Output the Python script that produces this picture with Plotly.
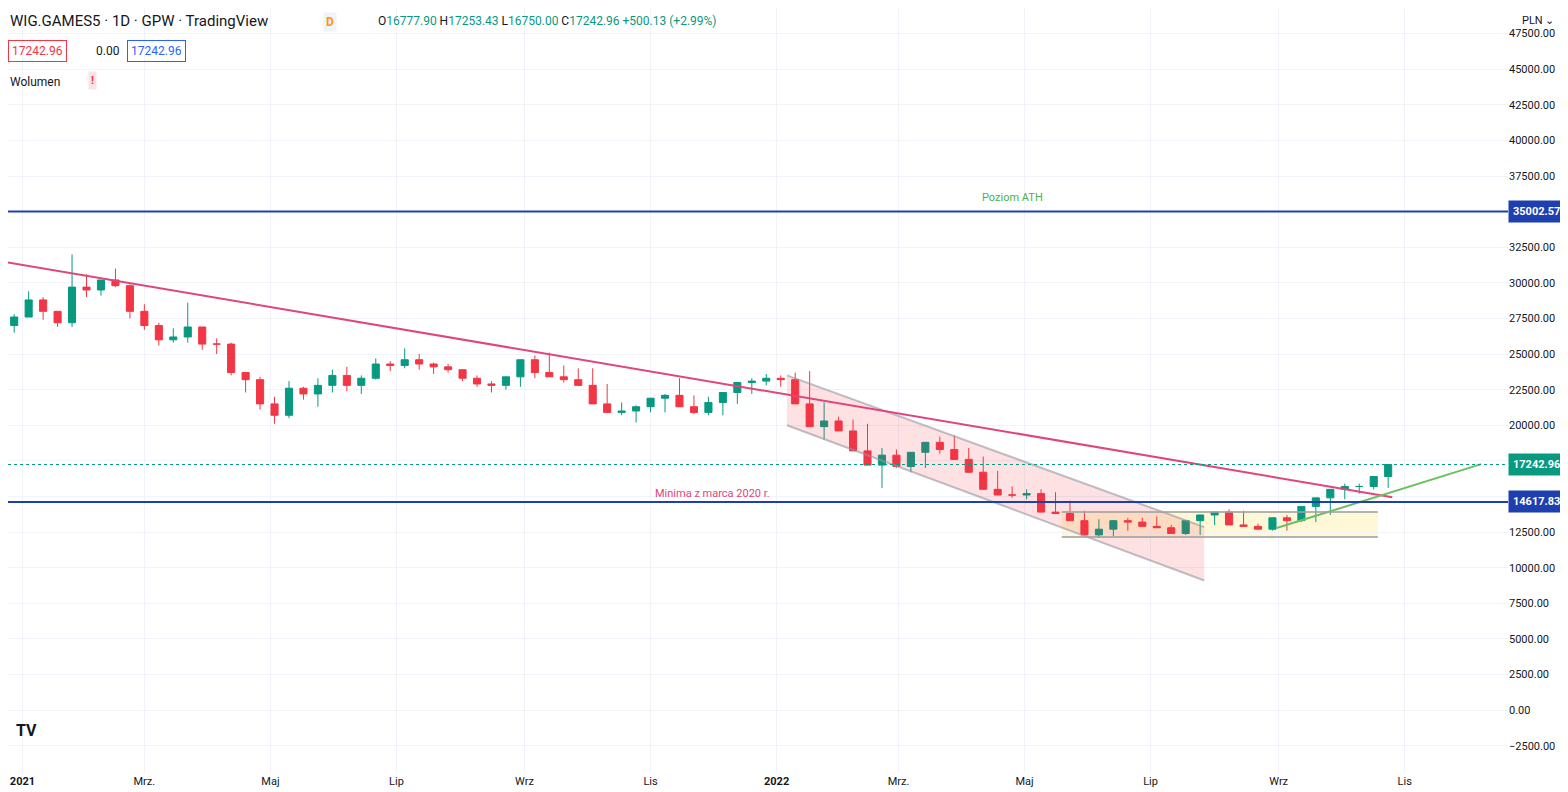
import plotly.graph_objects as go
import pandas as pd

# weekly candles (week start dates)
weeks = pd.date_range("2020-12-28", "2022-10-31", freq="W-MON")
opens = [27000, 27600, 28800, 28000, 27200, 29700, 29500, 30200, 29800, 28000, 27000, 26000, 26200, 26900,
         25700, 25700, 23700, 23200, 21500, 20700, 22600, 22200, 22800, 23500, 22800, 23300, 24300, 24200,
         24600, 24300, 24100, 23900, 23300, 22900, 22800, 23400, 24600, 23700, 23400, 23200, 22800, 21500,
         20900, 21000, 21300, 21900, 22100, 21300, 20900, 21600, 22300, 23000, 23100, 23300, 23200, 21500,
         19900, 20300, 19600, 18200, 17200, 17900, 17100, 18100, 18800, 18300, 17600, 16700, 15500, 15100,
         15100, 15200, 13900, 13800, 13300, 12300, 12700, 13300, 13200, 12900, 12800, 12400, 13300, 13700,
         13900, 13000, 12900, 12700, 13500, 13300, 14300, 14900, 15500, 15700, 15700, 16400]
highs = [27800, 29400, 29000, 28000, 32000, 30600, 30200, 31000, 29900, 28500, 27200, 26800, 28600, 26900,
         26100, 25800, 23600, 23400, 22000, 23100, 22700, 23300, 23900, 24100, 23500, 24700, 24500, 25400,
         25000, 24400, 24300, 23900, 23500, 23100, 23000, 24300, 24900, 25100, 24200, 24000, 24000, 22900,
         21600, 21400, 21500, 22200, 23300, 22100, 22000, 21800, 22500, 23300, 23600, 23500, 23700, 23800,
         21600, 20600, 20400, 20100, 18400, 18300, 18000, 18300, 19200, 19300, 18400, 17800, 16800, 15700,
         15500, 15500, 15300, 14700, 14000, 13400, 12900, 13500, 13500, 13600, 13000, 13100, 13400, 13900,
         14100, 14000, 13100, 13200, 13700, 14000, 14500, 15000, 15900, 15900, 16100, 16700, 17253]
lows = [26500, 27600, 27400, 26900, 26900, 29000, 29100, 29700, 27500, 26700, 25600, 25800, 25800, 25300,
        25000, 23500, 22300, 21100, 20100, 20500, 21800, 21300, 22300, 22400, 22200, 23200, 23800, 24000,
        23900, 23600, 23700, 23100, 22700, 22300, 22500, 22700, 23300, 23500, 23000, 22900, 22600, 21400,
        20700, 20200, 20900, 20900, 21800, 20800, 20700, 20700, 21500, 22200, 22800, 22700, 23000, 21300,
        19000, 19600, 19300, 18000, 15600, 17000, 16700, 17000, 18000, 18200, 17300, 16500, 15300, 14900,
        14800, 14800, 13800, 13800, 13200, 12100, 12200, 12600, 12900, 12800, 12600, 12300, 12300, 13000,
        13700, 12900, 12700, 12600, 12600, 13200, 13200, 13700, 14800, 15200, 15500, 15600, 16300]
closes = opens[1:] + [17242.96]

ath_level = 35002.57
march2020_min = 14617.83
last_close = 17242.96

# drawings (date, price)
trend_pts = [("2020-12-24", 31450), ("2022-10-26", 14950)]
channel_top = [("2022-01-06", 23500), ("2022-07-27", 12850)]
channel_bot = [("2022-01-06", 20000), ("2022-07-27", 9100)]
range_box = [("2022-05-19", 12150), ("2022-10-19", 13900)]
up_trend = [("2022-08-31", 12780), ("2022-12-08", 17270)]

tick_dates = ["2021-01-01", "2021-03-01", "2021-05-01", "2021-07-01", "2021-09-01", "2021-11-01",
              "2022-01-01", "2022-03-01", "2022-05-01", "2022-07-01", "2022-09-01", "2022-11-01"]
tick_text = ["<b>2021</b>", "Mrz.", "Maj", "Lip", "Wrz", "Lis",
             "<b>2022</b>", "Mrz.", "Maj", "Lip", "Wrz", "Lis"]

GREEN = "#089981"
RED = "#F23645"
BLUE = "#1E3FAF"
FONT = "Roboto"

fig = go.Figure()
fig.add_trace(go.Candlestick(
    x=weeks, open=opens, high=highs, low=lows, close=closes,
    increasing=dict(line=dict(color=GREEN, width=1), fillcolor=GREEN),
    decreasing=dict(line=dict(color=RED, width=1), fillcolor=RED),
    whiskerwidth=0, showlegend=False
))

# channel (pink parallelogram)
fig.add_trace(go.Scatter(
    x=[channel_top[0][0], channel_top[1][0], channel_bot[1][0], channel_bot[0][0], channel_top[0][0]],
    y=[channel_top[0][1], channel_top[1][1], channel_bot[1][1], channel_bot[0][1], channel_top[0][1]],
    fill="toself", fillcolor="rgba(242,54,69,0.15)", mode="none", showlegend=False, hoverinfo="skip"
))
for pts in (channel_top, channel_bot):
    fig.add_trace(go.Scatter(x=[p[0] for p in pts], y=[p[1] for p in pts], mode="lines",
                             line=dict(color="rgba(150,150,160,0.6)", width=2), showlegend=False, hoverinfo="skip"))

# consolidation box
fig.add_shape(type="rect", x0=range_box[0][0], x1=range_box[1][0], y0=range_box[0][1], y1=range_box[1][1],
              fillcolor="rgba(255,235,140,0.35)", line=dict(width=0), layer="below")
for yv in (range_box[0][1], range_box[1][1]):
    fig.add_shape(type="line", x0=range_box[0][0], x1=range_box[1][0], y0=yv, y1=yv,
                  line=dict(color="rgba(160,160,160,0.8)", width=2))

# lines
fig.add_trace(go.Scatter(x=[p[0] for p in trend_pts], y=[p[1] for p in trend_pts], mode="lines",
                         line=dict(color="#E0457B", width=2), showlegend=False, hoverinfo="skip"))
fig.add_trace(go.Scatter(x=[p[0] for p in up_trend], y=[p[1] for p in up_trend], mode="lines",
                         line=dict(color="#6CBF5E", width=2), showlegend=False, hoverinfo="skip"))
for lvl in (ath_level, march2020_min):
    fig.add_hline(y=lvl, line=dict(color=BLUE, width=2))
fig.add_hline(y=last_close, line=dict(color=GREEN, width=1, dash="dot"))

fig.add_annotation(x="2021-12-01", y=march2020_min, text="Minima z marca 2020 r.", showarrow=False,
                   yanchor="bottom", font=dict(color="#E0457B", size=11, family=FONT))
fig.add_annotation(x="2022-04-25", y=ath_level, text="Poziom ATH", showarrow=False, yshift=6,
                   yanchor="bottom", font=dict(color="#4CAF50", size=11, family=FONT))

# price labels on the axis
for lvl, col in ((ath_level, BLUE), (last_close, GREEN), (march2020_min, BLUE)):
    fig.add_annotation(xref="paper", x=1.0, y=lvl, text=f"<b>{lvl:.2f}</b>", showarrow=False, xanchor="left",
                       bgcolor=col, font=dict(color="white", size=11, family=FONT), borderpad=4)

# header
fig.add_annotation(xref="paper", yref="paper", x=0.0, y=0.998, xanchor="left", yanchor="top", showarrow=False,
                   text="WIG.GAMES5 · 1D · GPW · TradingView", font=dict(size=15, color="#131722", family=FONT))
fig.add_annotation(xref="paper", yref="paper", x=0.21, y=0.995, xanchor="left", yanchor="top", showarrow=False,
                   text="<span style='color:#ff9800'><b>D</b></span>", bgcolor="#f0f3fa",
                   font=dict(size=12, family=FONT), borderpad=2)
fig.add_annotation(xref="paper", yref="paper", x=0.245, y=0.995, xanchor="left", yanchor="top", showarrow=False,
                   text="O<span style='color:%s'>16777.90</span> H<span style='color:%s'>17253.43</span> "
                        "L<span style='color:%s'>16750.00</span> C<span style='color:%s'>17242.96</span> "
                        "<span style='color:%s'>+500.13 (+2.99%%)</span>" % (GREEN, GREEN, GREEN, GREEN, GREEN),
                   font=dict(size=12, color="#131722", family=FONT))
fig.add_annotation(xref="paper", yref="paper", x=0.0, y=0.958, xanchor="left", yanchor="top", showarrow=False,
                   text="17242.96", bordercolor=RED, borderwidth=1, borderpad=3,
                   font=dict(size=12, color=RED, family=FONT))
fig.add_annotation(xref="paper", yref="paper", x=0.056, y=0.958, xanchor="left", yanchor="top", showarrow=False,
                   text="0.00", borderpad=3, font=dict(size=12, color="#131722", family=FONT))
fig.add_annotation(xref="paper", yref="paper", x=0.079, y=0.958, xanchor="left", yanchor="top", showarrow=False,
                   text="17242.96", bordercolor="#2962FF", borderwidth=1, borderpad=3,
                   font=dict(size=12, color="#2962FF", family=FONT))
fig.add_annotation(xref="paper", yref="paper", x=0.0, y=0.915, xanchor="left", yanchor="top", showarrow=False,
                   text="Wolumen", font=dict(size=12, color="#131722", family=FONT))
fig.add_annotation(xref="paper", yref="paper", x=0.053, y=0.917, xanchor="left", yanchor="top", showarrow=False,
                   text="<b>!</b>", bgcolor="#fde2e4", font=dict(size=11, color=RED, family=FONT), borderpad=2)
fig.add_annotation(xref="paper", yref="paper", x=0.004, y=0.04, xanchor="left", yanchor="bottom", showarrow=False,
                   text="<b>TV</b>", font=dict(size=16, color="#131722", family=FONT))
fig.add_annotation(xref="paper", yref="paper", x=1.008, y=0.995, xanchor="left", yanchor="top", showarrow=False,
                   text="PLN ⌄", font=dict(size=11, color="#131722", family=FONT))

fig.update_layout(
    width=1568, height=792,
    margin=dict(l=0, r=68, t=0, b=27, pad=0, autoexpand=False),
    plot_bgcolor="white", paper_bgcolor="white",
    font=dict(family=FONT, size=11, color="#131722"),
    xaxis=dict(range=["2020-12-25", "2022-12-21"], rangeslider=dict(visible=False),
               tickvals=tick_dates, ticktext=tick_text, showgrid=True, gridcolor="#f0f3fa",
               showline=False, zeroline=False, ticks="", automargin=False),
    yaxis=dict(range=[-4420, 49300], side="right", dtick=2500, tickformat=".2f", automargin=False,
               showgrid=True, gridcolor="#f0f3fa", zeroline=False, ticks=""),
)

fig.write_html("out.html")
